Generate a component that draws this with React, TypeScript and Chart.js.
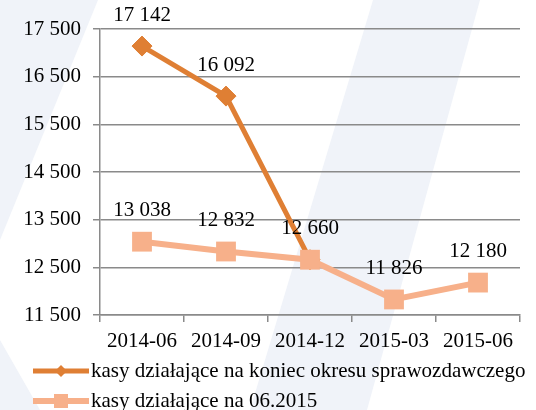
import React, { useEffect, useRef } from 'react';
import { Chart, registerables } from 'chart.js';

Chart.register(...registerables);

const categories = ['2014-06', '2014-09', '2014-12', '2015-03', '2015-06'];
const seriesEndOfPeriod = [17142, 16092, 12660, null, null];
const seriesAsOfJune2015 = [13038, 12832, 12660, 11826, 12180];
const seriesNames = [
  'kasy działające na koniec okresu sprawozdawczego',
  'kasy działające na 06.2015',
];
const yMin = 11500;
const yMax = 17500;
const yStep = 1000;

const FONT = '"Liberation Serif", "Times New Roman", serif';
const FS = 21;
const DARK = '#df7f34';
const LIGHT = '#f7b08a';
const GRID = '#8a8a8a';

const fmt = (v: number) => String(Math.round(v)).replace(/\B(?=(\d{3})+(?!\d))/g, ' ');

const backgroundPlugin = {
  id: 'bgStripes',
  beforeDraw(chart: any) {
    const { ctx, width, height } = chart;
    ctx.save();
    ctx.fillStyle = '#ffffff';
    ctx.fillRect(0, 0, width, height);
    ctx.fillStyle = '#f0f3f9';
    ctx.beginPath();
    ctx.moveTo(0, 0);
    ctx.lineTo(98, 0);
    ctx.lineTo(0, 240);
    ctx.closePath();
    ctx.fill();
    ctx.beginPath();
    ctx.moveTo(373, 0);
    ctx.lineTo(480, 0);
    ctx.lineTo(367, 410);
    ctx.lineTo(250, 410);
    ctx.closePath();
    ctx.fill();
    ctx.beginPath();
    ctx.moveTo(0, 340);
    ctx.lineTo(0, 410);
    ctx.lineTo(40, 410);
    ctx.closePath();
    ctx.fill();
    ctx.restore();
  },
};

const labelsPlugin = {
  id: 'valueLabels',
  afterDatasetsDraw(chart: any) {
    const { ctx } = chart;
    const drawn = new Set<string>();
    ctx.save();
    ctx.font = `${FS}px ${FONT}`;
    ctx.fillStyle = '#000';
    ctx.textAlign = 'center';
    ctx.textBaseline = 'middle';
    chart.data.datasets.forEach((ds: any, di: number) => {
      const meta = chart.getDatasetMeta(di);
      meta.data.forEach((pt: any, i: number) => {
        const v = ds.data[i];
        if (v == null) return;
        const key = `${Math.round(pt.x)}_${Math.round(pt.y)}`;
        if (drawn.has(key)) return;
        drawn.add(key);
        ctx.fillText(fmt(v), pt.x, pt.y - 31);
      });
    });
    ctx.restore();
  },
};

const legendPlugin = {
  id: 'customLegend',
  afterDraw(chart: any) {
    const { ctx } = chart;
    ctx.save();
    chart.data.datasets.forEach((ds: any, i: number) => {
      const y = 371 + i * 30;
      ctx.strokeStyle = ds.borderColor;
      ctx.lineWidth = ds.borderWidth;
      ctx.beginPath();
      ctx.moveTo(33, y);
      ctx.lineTo(89, y);
      ctx.stroke();
      ctx.fillStyle = ds.borderColor;
      ctx.beginPath();
      if (ds.pointStyle === 'rectRot') {
        const r = 6;
        ctx.moveTo(61 - r, y);
        ctx.lineTo(61, y - r);
        ctx.lineTo(61 + r, y);
        ctx.lineTo(61, y + r);
        ctx.closePath();
      } else {
        ctx.rect(61 - 7, y - 7, 14, 14);
      }
      ctx.fill();
      ctx.font = `${FS}px ${FONT}`;
      ctx.fillStyle = '#000';
      ctx.textAlign = 'left';
      ctx.textBaseline = 'middle';
      ctx.fillText(ds.label, 91, y);
    });
    ctx.restore();
  },
};

export default function App() {
  const ref = useRef<HTMLCanvasElement | null>(null);

  useEffect(() => {
    if (!ref.current) return;
    const chart = new Chart(ref.current, {
      type: 'line',
      data: {
        labels: categories,
        datasets: [
          {
            label: seriesNames[0],
            data: seriesEndOfPeriod,
            borderColor: DARK,
            backgroundColor: DARK,
            borderWidth: 5,
            pointStyle: 'rectRot',
            pointRadius: 10,
            pointBorderWidth: 1,
            pointBackgroundColor: DARK,
            pointBorderColor: DARK,
            order: 2,
            spanGaps: false,
          },
          {
            label: seriesNames[1],
            data: seriesAsOfJune2015,
            borderColor: LIGHT,
            backgroundColor: LIGHT,
            borderWidth: 6,
            pointStyle: 'rect',
            pointRadius: 14,
            pointBorderWidth: 0,
            pointBackgroundColor: LIGHT,
            pointBorderColor: LIGHT,
            order: 1,
          },
        ],
      },
      options: {
        responsive: false,
        animation: false,
        devicePixelRatio: 1,
        layout: { padding: { left: 0, top: 29, right: 16, bottom: 55 } },
        plugins: {
          legend: { display: false },
          tooltip: { enabled: false },
        },
        scales: {
          x: {
            offset: true,
            grid: {
              offset: true,
              drawOnChartArea: false,
              drawTicks: true,
              tickLength: 7,
              color: GRID,
              lineWidth: 1.5,
            },
            border: { color: GRID, width: 1.5 },
            ticks: {
              color: '#000',
              font: { family: FONT, size: FS },
              padding: 7,
              maxRotation: 0,
            },
            afterFit: (s: any) => {
              s.height = 40;
            },
          },
          y: {
            min: yMin,
            max: yMax,
            ticks: {
              stepSize: yStep,
              color: '#000',
              font: { family: FONT, size: FS },
              padding: 12,
              callback: (v: any) => fmt(Number(v)),
            },
            grid: {
              color: GRID,
              lineWidth: 1.5,
              tickLength: 7,
              drawTicks: true,
            },
            border: { color: GRID, width: 1.5 },
            afterFit: (s: any) => {
              s.width = 100;
            },
          },
        },
      },
      plugins: [backgroundPlugin, labelsPlugin, legendPlugin],
    });
    return () => chart.destroy();
  }, []);

  return (
    <div style={{ position: 'fixed', left: 0, top: 0, width: 536, height: 410 }}>
      <canvas ref={ref} width={536} height={410} style={{ width: 536, height: 410, display: 'block' }} />
    </div>
  );
}
